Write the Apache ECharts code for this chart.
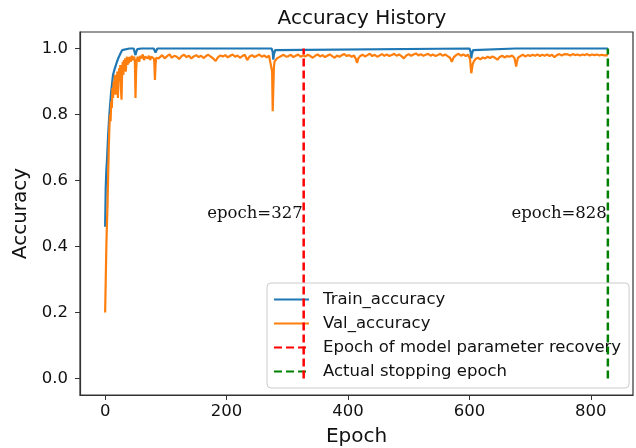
<!DOCTYPE html>
<html>
<head>
<meta charset="utf-8">
<script src="https://cdn.jsdelivr.net/npm/echarts@6/dist/echarts.min.js"></script>
<style>
  html, body { margin: 0; padding: 0; background: #fff; }
  #chart { width: 636px; height: 448px; }
</style>
</head>
<body>
<div id="chart"></div>
<script>
// Training history: accuracy per epoch
const trainEpochs = [0, 1, 2, 3, 4, 5, 6, 7, 8, 10, 13, 16, 19, 20, 22, 24, 26, 28, 30, 40, 47, 49, 50, 51, 53, 60, 80, 82, 83, 84, 86, 100,
  274, 276, 277, 278, 280, 283, 600, 602, 603, 604, 606, 609, 676, 677, 678, 828];
const trainAcc = [0.46, 0.58, 0.63, 0.66, 0.70, 0.74, 0.77, 0.80, 0.825, 0.87, 0.92, 0.94, 0.957, 0.962, 0.972, 0.98, 0.988, 0.995, 1.0, 1.0, 1.0, 0.994, 0.98, 0.988, 0.998, 1.0, 1.0, 0.996, 0.988, 0.994, 1.0, 1.0,
  1.0, 0.99, 0.966, 0.982, 0.995, 1.0, 1.0, 0.99, 0.97, 0.982, 0.995, 1.0, 1.0, 0.996, 1.0, 1.0];

const valEpochs = [0, 1, 2, 3, 4, 5, 6, 7, 8, 9, 10, 11, 12, 13, 14, 15, 16, 17, 18, 19, 20, 21, 22, 23, 24, 25, 26, 27, 28, 29, 30,
  31, 32, 33, 34, 35, 36, 37, 38, 39, 40, 42, 44, 46, 48, 49, 50, 51, 52, 54, 56, 58, 60, 62, 64, 66, 68, 70, 72, 74, 76, 78, 80, 81, 82, 83, 84, 86, 88,
  90, 94, 98, 102, 106, 110, 114, 118, 122, 126, 130, 134, 138, 142, 146, 150, 154, 158, 162, 166, 170, 174, 178, 182, 186, 190, 194, 198,
  202, 206, 210, 214, 218, 222, 226, 230, 234, 238, 242, 246, 250, 254, 258, 262, 266, 270, 273, 275, 276, 277, 278, 279, 281, 283, 286, 290, 294, 298,
  302, 306, 310, 314, 318, 322, 326, 330, 334, 338, 342, 346, 350, 354, 358, 362, 366, 370, 374, 378, 382, 386, 390, 394, 398,
  402, 406, 410, 413, 415, 417, 420, 424, 428, 432, 436, 440, 444, 448, 452, 456, 460, 464, 468, 472, 476, 480, 484, 488, 492, 496, 500,
  504, 508, 512, 516, 520, 524, 528, 532, 536, 540, 544, 548, 552, 556, 560, 564, 568, 571, 574, 578, 582, 586, 590, 594, 598, 601, 603, 604, 605, 607,
  610, 614, 618, 622, 626, 630, 634, 638, 642, 646, 650, 654, 658, 662, 666, 670, 674, 676, 677, 678, 680, 684, 688, 692, 696, 700,
  704, 708, 712, 716, 720, 724, 728, 732, 736, 740, 744, 748, 752, 756, 759, 762, 766, 770, 774, 778, 782, 786, 790, 794, 798,
  802, 806, 810, 814, 818, 822, 826, 828];
const valAcc = [0.20, 0.30, 0.40, 0.47, 0.53, 0.62, 0.70, 0.76, 0.80, 0.78, 0.84, 0.82, 0.88, 0.85, 0.90, 0.87, 0.92, 0.86, 0.91, 0.88, 0.93, 0.85, 0.91, 0.94, 0.90, 0.95, 0.88, 0.845, 0.93, 0.96, 0.92,
  0.965, 0.94, 0.97, 0.93, 0.96, 0.975, 0.95, 0.97, 0.955, 0.975, 0.96, 0.978, 0.965, 0.975, 0.96, 0.85, 0.93, 0.965, 0.975, 0.96, 0.978, 0.97, 0.982, 0.965, 0.975, 0.98, 0.97, 0.978, 0.965, 0.975, 0.98, 0.97, 0.96, 0.905, 0.95, 0.972, 0.978, 0.97,
  0.975, 0.98, 0.97, 0.977, 0.982, 0.972, 0.978, 0.975, 0.968, 0.977, 0.981, 0.974, 0.978, 0.97, 0.976, 0.98, 0.974, 0.978, 0.971, 0.977, 0.981, 0.975, 0.97, 0.962, 0.974, 0.979, 0.976, 0.98,
  0.973, 0.978, 0.982, 0.975, 0.979, 0.972, 0.977, 0.981, 0.965, 0.976, 0.98, 0.974, 0.978, 0.982, 0.975, 0.979, 0.973, 0.978, 0.974, 0.93, 0.81, 0.88, 0.945, 0.96, 0.955, 0.97, 0.967, 0.977, 0.981, 0.975,
  0.977, 0.981, 0.974, 0.978, 0.982, 0.975, 0.979, 0.976, 0.981, 0.977, 0.972, 0.978, 0.982, 0.976, 0.98, 0.974, 0.978, 0.982, 0.977, 0.972, 0.979, 0.975, 0.98, 0.983, 0.977,
  0.98, 0.975, 0.979, 0.968, 0.956, 0.97, 0.977, 0.981, 0.976, 0.98, 0.984, 0.977, 0.981, 0.975, 0.979, 0.983, 0.978, 0.982, 0.977, 0.98, 0.984, 0.978, 0.982, 0.977, 0.97, 0.979, 0.983,
  0.978, 0.982, 0.985, 0.979, 0.983, 0.978, 0.981, 0.984, 0.978, 0.982, 0.977, 0.98, 0.984, 0.978, 0.982, 0.977, 0.972, 0.96, 0.973, 0.98, 0.984, 0.978, 0.982, 0.977, 0.981, 0.968, 0.925, 0.935, 0.95, 0.96,
  0.968, 0.972, 0.967, 0.973, 0.97, 0.975, 0.971, 0.976, 0.972, 0.966, 0.974, 0.978, 0.973, 0.977, 0.975, 0.979, 0.972, 0.955, 0.945, 0.958, 0.972, 0.977, 0.981, 0.976, 0.98, 0.977,
  0.981, 0.978, 0.982, 0.977, 0.981, 0.978, 0.982, 0.977, 0.981, 0.974, 0.98, 0.983, 0.979, 0.983, 0.986, 0.982, 0.979, 0.983, 0.98, 0.982, 0.979, 0.982, 0.98, 0.983, 0.979,
  0.982, 0.98, 0.982, 0.979, 0.981, 0.979, 0.98, 0.979];

// Marker epochs
const recoveryEpoch = 327;
const stoppingEpoch = 828;

const xTicks = [0, 200, 400, 600, 800];
const yTicks = [0.0, 0.2, 0.4, 0.6, 0.8, 1.0];

const seriesNames = ['Train_accuracy', 'Val_accuracy', 'Epoch of model parameter recovery', 'Actual stopping epoch'];

const zip = (xs, ys) => xs.map((x, i) => [x, ys[i]]);
const FONT = 'DejaVu Sans';
const AXIS_COLOR = '#333';

const chart = echarts.init(document.getElementById('chart'), null, { renderer: 'canvas' });

function epochLabel(epoch) {
  return {
    symbol: 'circle',
    symbolSize: 0,
    data: [{ coord: [epoch, 0.5] }],
    label: {
      show: true,
      position: 'left',
      distance: 1,
      formatter: 'epoch=' + epoch,
      fontFamily: 'DejaVu Serif',
      fontSize: 16.5,
      color: '#111'
    }
  };
}

function axisCommon(ticks) {
  return {
    axisLine: { show: true, onZero: false, lineStyle: { color: AXIS_COLOR, width: 1.2 } },
    splitLine: { show: false },
    axisTick: { show: true, inside: false, length: 5, lineStyle: { color: AXIS_COLOR, width: 1 }, customValues: ticks }
  };
}

chart.setOption({
  animation: false,
  backgroundColor: '#fff',
  textStyle: { fontFamily: FONT },
  title: {
    text: 'Accuracy History',
    left: 357,
    top: 4,
    textAlign: 'center',
    textStyle: { fontFamily: FONT, fontSize: 20, fontWeight: 'normal', color: '#111' }
  },
  grid: {
    left: 80, right: 3, top: 32, bottom: 53,
    outerBoundsMode: 'none',
    containLabel: false,
    show: true, borderColor: AXIS_COLOR, borderWidth: 1.2, backgroundColor: 'transparent'
  },
  legend: {
    data: seriesNames,
    orient: 'vertical',
    left: 267,
    top: 283,
    padding: [8, 8, 8, 6],
    itemGap: 7,
    itemWidth: 35,
    itemHeight: 14,
    itemStyle: { opacity: 0 },
    backgroundColor: 'rgba(255,255,255,0.8)',
    borderColor: '#cccccc',
    borderWidth: 1,
    borderRadius: 4,
    textStyle: { fontFamily: FONT, fontSize: 16.5, lineHeight: 16, color: '#111', padding: [0, 0, 0, 9] }
  },
  xAxis: Object.assign({
    type: 'value',
    min: -41.4,
    max: 869.4,
    name: 'Epoch',
    nameLocation: 'middle',
    nameGap: 32,
    nameTextStyle: { fontFamily: FONT, fontSize: 20, color: '#111' },
    axisLabel: { customValues: xTicks, margin: 8, fontFamily: FONT, fontSize: 16.5, color: '#111' }
  }, axisCommon(xTicks)),
  yAxis: Object.assign({
    type: 'value',
    min: -0.05,
    max: 1.05,
    name: 'Accuracy',
    nameLocation: 'middle',
    nameGap: 38,
    nameTextStyle: { fontFamily: FONT, fontSize: 20, color: '#111' },
    axisLabel: {
      customValues: yTicks, margin: 12, fontFamily: FONT, fontSize: 16.5, color: '#111',
      formatter: v => v.toFixed(1)
    }
  }, axisCommon(yTicks)),
  series: [
    {
      name: seriesNames[0], type: 'line', data: zip(trainEpochs, trainAcc),
      symbol: 'none', color: '#1f77b4', lineStyle: { width: 2.2, color: '#1f77b4' }, z: 2
    },
    {
      name: seriesNames[1], type: 'line', data: zip(valEpochs, valAcc),
      symbol: 'none', color: '#ff7f0e', lineStyle: { width: 2.2, color: '#ff7f0e' }, z: 3
    },
    {
      name: seriesNames[2], type: 'line', data: [[recoveryEpoch, 0], [recoveryEpoch, 1]],
      symbol: 'none', color: '#ff0000', lineStyle: { width: 2.5, color: '#ff0000', type: [8, 4] }, z: 4,
      markPoint: epochLabel(recoveryEpoch)
    },
    {
      name: seriesNames[3], type: 'line', data: [[stoppingEpoch, 0], [stoppingEpoch, 1]],
      symbol: 'none', color: '#008000', lineStyle: { width: 2.5, color: '#008000', type: [8, 4] }, z: 4,
      markPoint: epochLabel(stoppingEpoch)
    }
  ]
});
</script>
</body>
</html>
